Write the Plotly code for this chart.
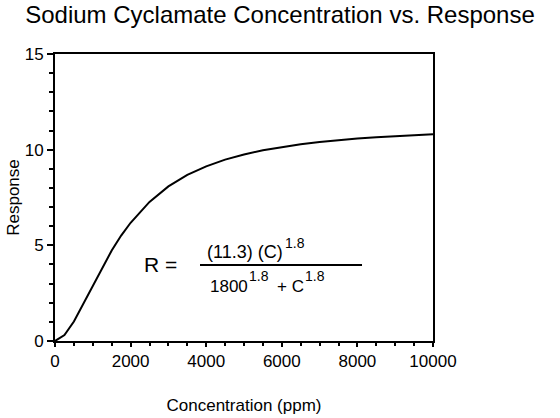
import plotly.graph_objects as go

conc = [0, 250, 500, 750, 1000, 1250, 1500, 1750, 2000, 2500, 3000, 3500, 4000,
        4500, 5000, 5500, 6000, 6500, 7000, 7500, 8000, 8500, 9000, 9500, 10000]
response = [0, 0.31, 1.02, 1.94, 2.91, 3.86, 4.73, 5.51, 6.18, 7.27, 8.08, 8.68, 9.13,
            9.48, 9.75, 9.97, 10.14, 10.28, 10.40, 10.50, 10.58, 10.65, 10.71, 10.76, 10.81]
x_ticks = [0, 2000, 4000, 6000, 8000, 10000]
x_ticklabels = ["0", "2000", "4000", "6000", "8000", "10000"]
y_ticks = [0, 5, 10, 15]

FONT = "Liberation Sans, Arial, sans-serif"

fig = go.Figure()
fig.add_trace(go.Scatter(x=conc, y=response, mode="lines",
                         line=dict(color="black", width=2), showlegend=False,
                         hoverinfo="skip"))

fig.update_layout(
    width=560, height=418,
    margin=dict(l=55, r=127, t=54, b=77),
    paper_bgcolor="white", plot_bgcolor="white",
    font=dict(family=FONT, color="black", size=17),
    title=dict(text="Sodium Cyclamate Concentration vs. Response",
               x=0.5, xanchor="center", y=1 - 15 / 418, yanchor="middle",
               font=dict(size=24, family=FONT, color="black")),
    xaxis=dict(range=[0, 10000], tickvals=x_ticks, ticktext=x_ticklabels,
               automargin=False,
               ticks="outside", ticklen=4,
               tickwidth=2, tickcolor="black", showline=True, linecolor="black",
               linewidth=2, mirror=True, showgrid=False, zeroline=False,
               minor=dict(dtick=500, ticks="outside", ticklen=3, tickwidth=2,
                          tickcolor="black", showgrid=False),
               title=dict(text="Concentration (ppm)", standoff=29,
                          font=dict(size=17, family=FONT)),
               tickfont=dict(size=17, family=FONT)),
    yaxis=dict(range=[0, 15], tickvals=y_ticks, ticks="outside", ticklen=6,
               automargin=False,
               tickwidth=2, tickcolor="black", showline=True, linecolor="black",
               linewidth=2, mirror=True, showgrid=False, zeroline=False,
               minor=dict(dtick=1, ticks="outside", ticklen=4, tickwidth=2,
                          tickcolor="black", showgrid=False),
               title=dict(text="Response", standoff=1,
                          font=dict(size=17, family=FONT)),
               tickfont=dict(size=17, family=FONT)),
)

def note(x, y, text, size):
    fig.add_annotation(x=x, y=y, xref="x", yref="y", text=text, showarrow=False,
                       xanchor="left", yanchor="middle",
                       font=dict(size=size, family=FONT, color="black"))

note(2302, 4.00, "R =", 21)
note(3968, 4.65, "(11.3) (C)", 18)
note(6020, 5.12, "1.8", 14)
note(4048, 2.87, "1800", 17)
note(5080, 3.40, "1.8", 14)
note(5820, 2.87, "+ C", 17)
note(6560, 3.40, "1.8", 14)
fig.add_shape(type="line", xref="x", yref="y", x0=3836, x1=8122, y0=3.97, y1=3.97,
              line=dict(color="black", width=2))

fig.write_html("out.html")
